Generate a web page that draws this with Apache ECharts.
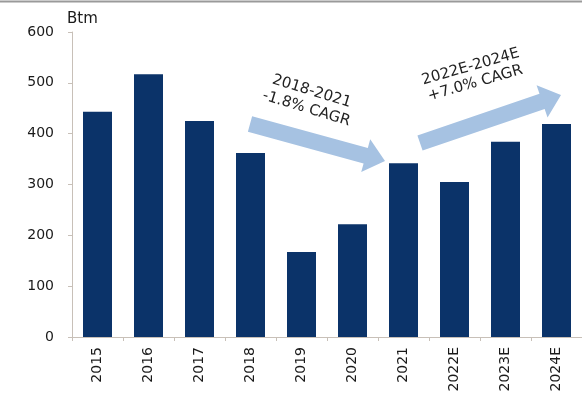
<!DOCTYPE html>
<html>
<head>
<meta charset="utf-8">
<script src="https://cdn.jsdelivr.net/npm/echarts@6/dist/echarts.min.js"></script>
<style>
  html, body { margin: 0; padding: 0; background: #fff; }
  #chart { width: 582px; height: 398px; }
</style>
</head>
<body>
<div id="chart"></div>
<script>
// Annual values, Btm
const years = ['2015', '2016', '2017', '2018', '2019', '2020', '2021', '2022E', '2023E', '2024E'];
const values = [443, 517, 425, 362, 167, 222, 342, 305, 384, 419];
const yTicks = [0, 100, 200, 300, 400, 500, 600];
const unitLabel = 'Btm';
const trendNotes = [
  ['2018-2021', '-1.8% CAGR'],
  ['2022E-2024E', '+7.0% CAGR']
];

const FONT = '"DejaVu Sans", Verdana, sans-serif';
const ARROW_FILL = '#a6c2e2';

// Block arrow polygon from tail centre to tip
function arrowPoints(tail, tip, shaftW, headW, headL) {
  const dx = tip[0] - tail[0], dy = tip[1] - tail[1];
  const len = Math.hypot(dx, dy);
  const ux = dx / len, uy = dy / len;
  const nx = -uy, ny = ux;
  const bx = tip[0] - ux * headL, by = tip[1] - uy * headL;
  const s = shaftW / 2, h = headW / 2;
  return [
    [tail[0] + nx * s, tail[1] + ny * s],
    [bx + nx * s, by + ny * s],
    [bx + nx * h, by + ny * h],
    tip,
    [bx - nx * h, by - ny * h],
    [bx - nx * s, by - ny * s],
    [tail[0] - nx * s, tail[1] - ny * s]
  ];
}

const chart = echarts.init(document.getElementById('chart'), null, { renderer: 'canvas' });

chart.setOption({
  animation: false,
  backgroundColor: '#ffffff',
  grid: { left: 72, right: -2, top: 32, bottom: 61, containLabel: false },
  xAxis: {
    type: 'category',
    data: years,
    axisLine: { lineStyle: { color: '#c8c0b8', width: 1 } },
    axisTick: { show: true, length: 4, lineStyle: { color: '#c8c0b8' } },
    axisLabel: {
      rotate: 90, margin: 10, color: '#1a1a1a',
      fontFamily: FONT, fontSize: 14, interval: 0
    }
  },
  yAxis: {
    type: 'value',
    min: yTicks[0],
    max: yTicks[yTicks.length - 1],
    interval: 100,
    splitLine: { show: false },
    axisLine: { show: true, lineStyle: { color: '#c8c0b8', width: 1 } },
    axisTick: { show: true, length: 4, lineStyle: { color: '#c8c0b8' } },
    axisLabel: { margin: 18, color: '#1a1a1a', fontFamily: FONT, fontSize: 14 }
  },
  series: [{
    type: 'bar',
    data: values,
    barWidth: 29,
    itemStyle: { color: '#0b3369' }
  }],
  graphic: [
    // frame line along the top edge
    { type: 'line', shape: { x1: 0, y1: 1.5, x2: 582, y2: 1.5 },
      style: { stroke: '#9a9a9a', lineWidth: 2 } },
    { type: 'text', x: 67, y: 19,
      style: { text: unitLabel, font: '15px ' + FONT, fill: '#1a1a1a',
               align: 'left', verticalAlign: 'middle' } },
    { type: 'polygon', shape: { points: arrowPoints([250, 124], [385, 161], 16, 34, 20) },
      style: { fill: ARROW_FILL } },
    { type: 'polygon', shape: { points: arrowPoints([420, 143], [561, 95], 16, 34, 20) },
      style: { fill: ARROW_FILL } },
    { type: 'text', x: 309, y: 100, rotation: -17 * Math.PI / 180,
      style: { text: trendNotes[0].join('\n'), font: '15px ' + FONT, fill: '#222',
               align: 'center', verticalAlign: 'middle', lineHeight: 18 } },
    { type: 'text', x: 473, y: 75, rotation: 16 * Math.PI / 180,
      style: { text: trendNotes[1].join('\n'), font: '15px ' + FONT, fill: '#222',
               align: 'center', verticalAlign: 'middle', lineHeight: 17 } }
  ]
});
</script>
</body>
</html>
